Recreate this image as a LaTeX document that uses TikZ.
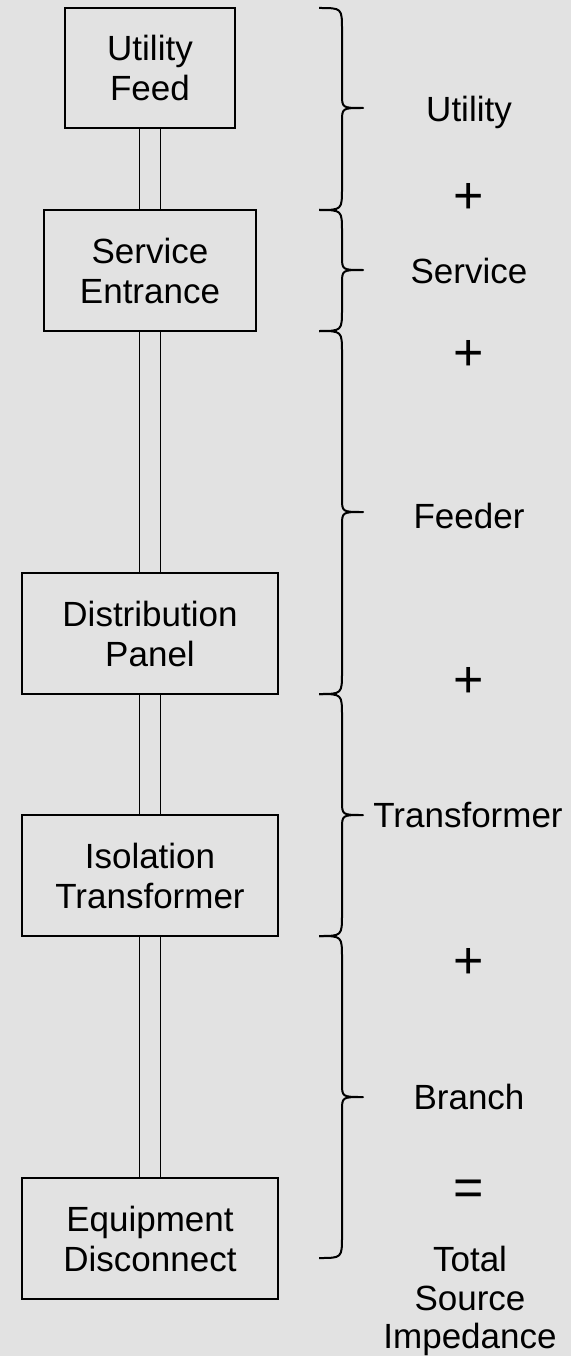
\documentclass[tikz,border=0pt]{standalone}
\usepackage{fontspec}
\setmainfont{Liberation Sans}
\definecolor{bgcol}{RGB}{226,226,226}
\tikzset{
  boxnode/.style={draw=black, line width=2pt, minimum width=256pt, minimum height=121pt, inner sep=0pt, align=center, font=\fontsize{35}{40}\selectfont},
  conn/.style={draw=black, line width=1.8pt},
  bracepen/.style={draw=black, line width=2pt, line join=round},
  lbl/.style={anchor=base, inner sep=0pt, align=center, font=\fontsize{35}{40}\selectfont},
  opnode/.style={anchor=base, inner sep=0pt, font=\fontsize{52}{52}\selectfont}
}
\newcommand{\mybrace}[3]{%
  \draw[bracepen] (319,#1) .. controls (342,#1) .. (342,{#1+22}) -- (342,{#2-14})
    .. controls (342,#2) .. (363,#2) .. controls (342,#2) .. (342,{#2+14})
    -- (342,{#3-22}) .. controls (342,#3) .. (319,#3);}
\begin{document}
\begin{tikzpicture}[x=1pt,y=-1pt]
\useasboundingbox (0,0) rectangle (571,1356);
\fill[bgcol] (0,0) rectangle (571,1356);
% boxes
\node[boxnode, minimum width=170pt, minimum height=120pt] (uf) at (150,68) {Utility\\Feed};
\node[boxnode, minimum width=212pt] (se) at (150,270.5) {Service\\Entrance};
\node[boxnode] (dp) at (150,633.5) {Distribution\\Panel};
\node[boxnode] (it) at (150,875.5) {Isolation\\Transformer};
\node[boxnode] (ed) at (150,1238.5) {Equipment\\Disconnect};
% double connectors
\foreach \a/\b in {uf/se, se/dp, dp/it, it/ed}{
  \draw[conn] (\a.south -| 139.5,0) -- (\b.north -| 139.5,0);
  \draw[conn] (\a.south -| 160.5,0) -- (\b.north -| 160.5,0);
}
% braces
\mybrace{8}{108}{210}
\mybrace{210}{270}{331}
\mybrace{331}{512}{694}
\mybrace{694}{815}{936}
\mybrace{936}{1097}{1258}
% labels
\node[lbl] (lu) at (469,122) {Utility};
\node[opnode] (p1) at (469,214) {+};
\node[lbl] (ls) at (469,283) {Service};
\node[opnode] (p2) at (469,370) {+};
\node[lbl] (lf) at (469,528) {Feeder};
\node[opnode] (p3) at (469,697) {+};
\node[lbl] (lt) at (468,827) {Transformer};
\node[opnode] (p4) at (469,978) {+};
\node[lbl] (lb) at (469,1109) {Branch};
\node[opnode] (eq) at (469,1205) {=};
\node[lbl] (lt1) at (470,1271) {Total};
\node[lbl] (lt2) at (470,1310) {Source};
\node[lbl] (lt3) at (470,1348) {Impedance};
\end{tikzpicture}
\end{document}
